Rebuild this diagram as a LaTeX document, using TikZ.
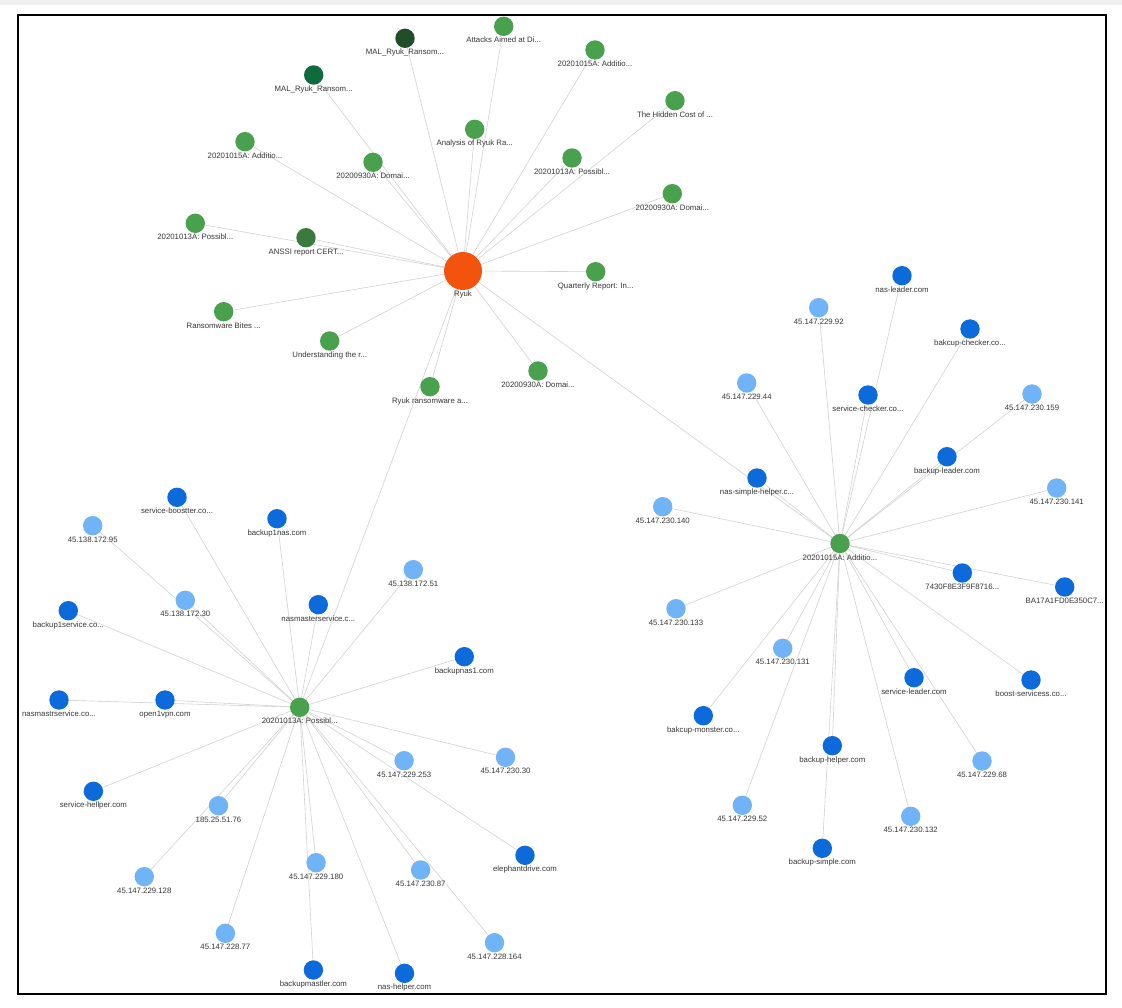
\documentclass[tikz,border=0pt]{standalone}
\usepackage{fontspec}
\newfontfamily\labfont{Liberation Sans}
\usetikzlibrary{backgrounds}
\definecolor{ryukc}{HTML}{F2540E}
\definecolor{grc}{HTML}{49A04D}
\definecolor{dgc}{HTML}{214D28}
\definecolor{tgc}{HTML}{0D6B3C}
\definecolor{agc}{HTML}{3B7A3D}
\definecolor{dbc}{HTML}{0C6ADA}
\definecolor{lbc}{HTML}{70B3F6}
\definecolor{edgec}{HTML}{D2D2D2}
\definecolor{txtc}{HTML}{363636}
\tikzset{
  dot/.style={circle,inner sep=0pt,minimum size=19.4pt},
  gr/.style={dot,fill=grc},
  dg/.style={dot,fill=dgc},
  tg/.style={dot,fill=tgc},
  ag/.style={dot,fill=agc},
  db/.style={dot,fill=dbc},
  lb/.style={dot,fill=lbc},
  rk/.style={circle,inner sep=0pt,minimum size=38pt,fill=ryukc},
  lbl/.style={font=\labfont\fontsize{7.8}{8}\selectfont,text=txtc,inner sep=0pt,
    text height=5.6pt,text depth=1.5pt,label distance=0.9pt},
  edge/.style={draw=edgec,line width=0.6pt},
}
\newcommand\N[5]{\node[#4,label={[lbl]below:{#5}}] (#1) at (#2,#3) {};}
\begin{document}
\begin{tikzpicture}[x=1pt,y=-1pt]
\useasboundingbox (0,0) rectangle (1122,1008);
% Ryuk and its reports
\N{ryuk}{463}{271}{rk}{Ryuk}
\N{mal1}{405}{38.3}{dg}{MAL\_Ryuk\_Ransom...}
\N{att}{503.7}{26.3}{gr}{Attacks Aimed at Di...}
\N{a15a}{595}{50}{gr}{20201015A: Additio...}
\N{mal2}{313.7}{75}{tg}{MAL\_Ryuk\_Ransom...}
\N{hid}{675}{100.7}{gr}{The Hidden Cost of ...}
\N{ana}{474.7}{129.3}{gr}{Analysis of Ryuk Ra...}
\N{a15b}{245}{141.7}{gr}{20201015A: Additio...}
\N{p13a}{572}{158}{gr}{20201013A: Possibl...}
\N{d30a}{373}{162.3}{gr}{20200930A: Domai...}
\N{d30b}{672.3}{193.7}{gr}{20200930A: Domai...}
\N{p13b}{195.3}{223.3}{gr}{20201013A: Possibl...}
\N{anssi}{306}{237.7}{ag}{ANSSI report CERT...}
\N{qr}{595.7}{271.7}{gr}{Quarterly Report: In...}
\N{rb}{223.7}{311.7}{gr}{Ransomware Bites ...}
\N{und}{329.7}{341}{gr}{Understanding the r...}
\N{d30c}{538}{371}{gr}{20200930A: Domai...}
\N{rra}{430}{386.7}{gr}{Ryuk ransomware a...}
% hubs
\N{hubR}{840}{543.5}{gr}{20201015A: Additio...}
\N{hubL}{299.7}{707.3}{gr}{20201013A: Possibl...}
% right cluster
\N{r1}{902}{275.7}{db}{nas-leader.com}
\N{r2}{818.7}{307.7}{lb}{45.147.229.92}
\N{r3}{970}{329}{db}{bakcup-checker.co...}
\N{r4}{746.7}{383}{lb}{45.147.229.44}
\N{r5}{868}{395}{db}{service-checker.co...}
\N{r6}{1032}{394}{lb}{45.147.230.159}
\N{r7}{947}{456.7}{db}{backup-leader.com}
\N{r8}{757}{478}{db}{nas-simple-helper.c...}
\N{r9}{1056.7}{488}{lb}{45.147.230.141}
\N{r10}{662.7}{506.7}{lb}{45.147.230.140}
\N{r11}{962.3}{573}{db}{7430F8E3F9F8716...}
\N{r12}{1064.7}{587}{db}{BA17A1FD0E350C7...}
\N{r13}{676}{608.7}{lb}{45.147.230.133}
\N{r14}{782.7}{648.3}{lb}{45.147.230.131}
\N{r15}{914}{677.7}{db}{service-leader.com}
\N{r16}{1031}{680}{db}{boost-servicess.co...}
\N{r17}{703.3}{715.7}{db}{bakcup-monster.co...}
\N{r18}{832.3}{745.7}{db}{backup-helper.com}
\N{r19}{982}{761}{lb}{45.147.229.68}
\N{r20}{742.3}{805.3}{lb}{45.147.229.52}
\N{r21}{910.7}{816.3}{lb}{45.147.230.132}
\N{r22}{822.3}{848.3}{db}{backup-simple.com}
% left cluster
\N{l1}{177}{497.3}{db}{service-boostter.co...}
\N{l2}{92.7}{525.7}{lb}{45.138.172.95}
\N{l3}{277}{518.7}{db}{backup1nas.com}
\N{l4}{413.3}{569.7}{lb}{45.138.172.51}
\N{l5}{185.3}{600.3}{lb}{45.138.172.30}
\N{l6}{68.3}{610.7}{db}{backup1service.co...}
\N{l7}{318.3}{604.7}{db}{nasmasterservice.c...}
\N{l8}{464.3}{656.7}{db}{backupnas1.com}
\N{l9}{59}{700}{db}{nasmastrservice.co...}
\N{l10}{165}{700}{db}{open1vpn.com}
\N{l11}{404.1}{760.7}{lb}{45.147.229.253}
\N{l12}{505.5}{757.3}{lb}{45.147.230.30}
\N{l13}{93.4}{791.3}{db}{service-hellper.com}
\N{l14}{218.5}{805.7}{lb}{185.25.51.76}
\N{l15}{144.3}{876.7}{lb}{45.147.229.128}
\N{l16}{316.1}{862.7}{lb}{45.147.229.180}
\N{l17}{420.6}{870}{lb}{45.147.230.87}
\N{l18}{525}{855.3}{db}{elephantdrive.com}
\N{l19}{225.4}{933.3}{lb}{45.147.228.77}
\N{l20}{494.5}{942.7}{lb}{45.147.228.164}
\N{l21}{313.4}{970}{db}{backupmastler.com}
\N{l22}{404.5}{973.3}{db}{nas-helper.com}
\begin{pgfonlayer}{background}
\fill[white] (0,0) rectangle (1122,1008);
\fill[black!6] (0,0) rectangle (1122,5);
\draw[line width=1.6pt,black] (18,15) rectangle (1106,994);
\foreach \t in {mal1,att,a15a,mal2,hid,ana,a15b,p13a,d30a,d30b,p13b,anssi,qr,rb,und,d30c,rra,hubR,hubL}
  \draw[edge] (ryuk) -- (\t);
\foreach \i in {1,...,22} {
  \draw[edge] (hubR) -- (r\i);
  \draw[edge] (hubL) -- (l\i);
}
\end{pgfonlayer}
\end{tikzpicture}
\end{document}
